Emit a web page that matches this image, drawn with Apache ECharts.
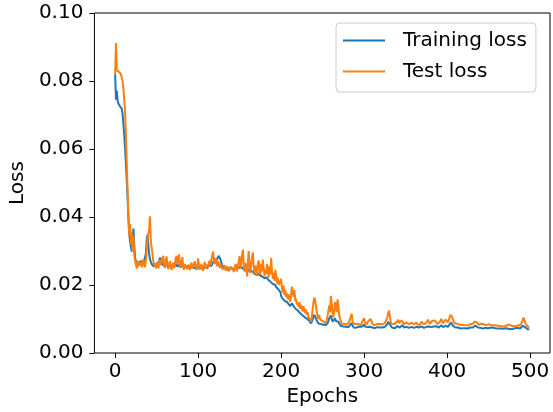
<!DOCTYPE html>
<html>
<head>
<meta charset="utf-8">
<script src="https://cdn.jsdelivr.net/npm/echarts@6/dist/echarts.min.js"></script>
<style>
  html, body { margin: 0; padding: 0; background: #fff; }
  #chart { width: 553px; height: 412px; }
</style>
</head>
<body>
<div id="chart"></div>
<script>
// loss per epoch (epoch = array index)
const trainingLoss = [
  0.0820, 0.0745, 0.0772, 0.0742, 0.0733, 0.0730, 0.0725, 0.0722, 0.0718, 0.0702,
  0.0672, 0.0640, 0.0600, 0.0555, 0.0508, 0.0455, 0.0400, 0.0352, 0.0328, 0.0312,
  0.0298, 0.0338, 0.0366, 0.0318, 0.0282, 0.0270, 0.0262, 0.0268, 0.0260, 0.0258,
  0.0263, 0.0271, 0.0276, 0.0268, 0.0262, 0.0258, 0.0266, 0.0292, 0.0332, 0.0348,
  0.0318, 0.0290, 0.0276, 0.0268, 0.0262, 0.0258, 0.0255, 0.0254, 0.0256, 0.0258,
  0.0262, 0.0258, 0.0266, 0.0272, 0.0280, 0.0283, 0.0270, 0.0262, 0.0258, 0.0255,
  0.0258, 0.0262, 0.0256, 0.0253, 0.0256, 0.0260, 0.0254, 0.0252, 0.0256, 0.0259,
  0.0255, 0.0252, 0.0256, 0.0262, 0.0258, 0.0254, 0.0256, 0.0260, 0.0255, 0.0252,
  0.0255, 0.0258, 0.0254, 0.0251, 0.0254, 0.0257, 0.0253, 0.0250, 0.0254, 0.0256,
  0.0252, 0.0250, 0.0253, 0.0256, 0.0252, 0.0249, 0.0252, 0.0255, 0.0251, 0.0249,
  0.0252, 0.0255, 0.0251, 0.0248, 0.0251, 0.0254, 0.0250, 0.0248, 0.0252, 0.0255,
  0.0251, 0.0249, 0.0253, 0.0258, 0.0262, 0.0260, 0.0256, 0.0262, 0.0268, 0.0272,
  0.0270, 0.0266, 0.0272, 0.0278, 0.0283, 0.0286, 0.0282, 0.0274, 0.0265, 0.0258,
  0.0254, 0.0252, 0.0255, 0.0252, 0.0249, 0.0251, 0.0254, 0.0250, 0.0248, 0.0250,
  0.0252, 0.0249, 0.0246, 0.0249, 0.0251, 0.0248, 0.0252, 0.0258, 0.0262, 0.0255,
  0.0250, 0.0246, 0.0248, 0.0252, 0.0256, 0.0246, 0.0243, 0.0245, 0.0241, 0.0238,
  0.0242, 0.0246, 0.0239, 0.0236, 0.0238, 0.0241, 0.0244, 0.0236, 0.0233, 0.0235,
  0.0232, 0.0229, 0.0233, 0.0235, 0.0229, 0.0226, 0.0230, 0.0225, 0.0228, 0.0224,
  0.0220, 0.0222, 0.0218, 0.0222, 0.0216, 0.0212, 0.0215, 0.0210, 0.0213, 0.0207,
  0.0203, 0.0204, 0.0198, 0.0200, 0.0194, 0.0190, 0.0192, 0.0186, 0.0182, 0.0180,
  0.0168, 0.0162, 0.0158, 0.0160, 0.0154, 0.0152, 0.0149, 0.0150, 0.0145, 0.0144,
  0.0141, 0.0138, 0.0140, 0.0146, 0.0148, 0.0138, 0.0136, 0.0131, 0.0130, 0.0127,
  0.0125, 0.0121, 0.0122, 0.0117, 0.0118, 0.0114, 0.0110, 0.0112, 0.0107, 0.0104,
  0.0103, 0.0099, 0.0100, 0.0095, 0.0094, 0.0090, 0.0087, 0.0090, 0.0098, 0.0106,
  0.0112, 0.0110, 0.0102, 0.0095, 0.0090, 0.0087, 0.0090, 0.0087, 0.0085, 0.0087,
  0.0085, 0.0083, 0.0086, 0.0084, 0.0082, 0.0084, 0.0088, 0.0094, 0.0102, 0.0098,
  0.0110, 0.0100, 0.0092, 0.0088, 0.0096, 0.0102, 0.0094, 0.0090, 0.0098, 0.0092,
  0.0086, 0.0083, 0.0080, 0.0079, 0.0078, 0.0078, 0.0077, 0.0076, 0.0077, 0.0075,
  0.0075, 0.0076, 0.0078, 0.0082, 0.0086, 0.0088, 0.0080, 0.0076, 0.0074, 0.0075,
  0.0076, 0.0075, 0.0074, 0.0076, 0.0078, 0.0075, 0.0074, 0.0077, 0.0080, 0.0082,
  0.0084, 0.0078, 0.0075, 0.0074, 0.0076, 0.0079, 0.0081, 0.0077, 0.0080, 0.0077,
  0.0075, 0.0074, 0.0076, 0.0073, 0.0075, 0.0074, 0.0076, 0.0074, 0.0073, 0.0075,
  0.0074, 0.0076, 0.0075, 0.0073, 0.0075, 0.0077, 0.0074, 0.0078, 0.0085, 0.0092,
  0.0096, 0.0088, 0.0080, 0.0076, 0.0074, 0.0076, 0.0075, 0.0073, 0.0075, 0.0077,
  0.0079, 0.0081, 0.0077, 0.0075, 0.0078, 0.0080, 0.0082, 0.0078, 0.0075, 0.0073,
  0.0075, 0.0077, 0.0079, 0.0076, 0.0074, 0.0073, 0.0075, 0.0077, 0.0079, 0.0076,
  0.0074, 0.0073, 0.0075, 0.0077, 0.0074, 0.0073, 0.0075, 0.0073, 0.0075, 0.0078,
  0.0080, 0.0076, 0.0074, 0.0073, 0.0075, 0.0077, 0.0079, 0.0081, 0.0078, 0.0075,
  0.0074, 0.0076, 0.0079, 0.0081, 0.0078, 0.0080, 0.0082, 0.0079, 0.0075, 0.0074,
  0.0075, 0.0077, 0.0079, 0.0082, 0.0080, 0.0076, 0.0075, 0.0077, 0.0080, 0.0083,
  0.0080, 0.0077, 0.0079, 0.0084, 0.0088, 0.0090, 0.0085, 0.0080, 0.0077, 0.0076,
  0.0075, 0.0074, 0.0076, 0.0075, 0.0073, 0.0074, 0.0072, 0.0074, 0.0075, 0.0073,
  0.0072, 0.0074, 0.0073, 0.0071, 0.0073, 0.0072, 0.0074, 0.0073, 0.0075, 0.0073,
  0.0072, 0.0075, 0.0076, 0.0078, 0.0081, 0.0080, 0.0077, 0.0075, 0.0073, 0.0072,
  0.0074, 0.0075, 0.0073, 0.0072, 0.0074, 0.0076, 0.0074, 0.0072, 0.0071, 0.0073,
  0.0074, 0.0076, 0.0074, 0.0072, 0.0073, 0.0075, 0.0073, 0.0071, 0.0073, 0.0072,
  0.0070, 0.0072, 0.0071, 0.0073, 0.0072, 0.0070, 0.0072, 0.0071, 0.0070, 0.0072,
  0.0073, 0.0071, 0.0070, 0.0072, 0.0074, 0.0072, 0.0070, 0.0072, 0.0073, 0.0071,
  0.0070, 0.0072, 0.0073, 0.0071, 0.0072, 0.0074, 0.0072, 0.0070, 0.0072, 0.0073,
  0.0076, 0.0080, 0.0084, 0.0080, 0.0076, 0.0073, 0.0071, 0.0070, 0.0072, 0.0070
];

const testLoss = [
  0.0820, 0.0912, 0.0832, 0.0828, 0.0835, 0.0826, 0.0822, 0.0820, 0.0815, 0.0800,
  0.0776, 0.0745, 0.0705, 0.0640, 0.0560, 0.0480, 0.0395, 0.0345, 0.0380, 0.0320,
  0.0355, 0.0300, 0.0345, 0.0290, 0.0270, 0.0262, 0.0248, 0.0272, 0.0255, 0.0250,
  0.0258, 0.0268, 0.0252, 0.0262, 0.0275, 0.0260, 0.0252, 0.0270, 0.0300, 0.0335,
  0.0338, 0.0365, 0.0402, 0.0330, 0.0310, 0.0290, 0.0270, 0.0258, 0.0265, 0.0250,
  0.0256, 0.0268, 0.0248, 0.0262, 0.0275, 0.0258, 0.0265, 0.0280, 0.0286, 0.0262,
  0.0250, 0.0272, 0.0284, 0.0258, 0.0246, 0.0262, 0.0270, 0.0252, 0.0245, 0.0258,
  0.0266, 0.0250, 0.0262, 0.0278, 0.0286, 0.0260, 0.0276, 0.0290, 0.0262, 0.0250,
  0.0270, 0.0282, 0.0255, 0.0245, 0.0262, 0.0250, 0.0258, 0.0246, 0.0260, 0.0252,
  0.0244, 0.0258, 0.0266, 0.0250, 0.0246, 0.0262, 0.0270, 0.0252, 0.0244, 0.0258,
  0.0278, 0.0256, 0.0245, 0.0252, 0.0262, 0.0248, 0.0242, 0.0256, 0.0268, 0.0250,
  0.0245, 0.0260, 0.0252, 0.0266, 0.0272, 0.0258, 0.0275, 0.0288, 0.0298, 0.0272,
  0.0262, 0.0280, 0.0266, 0.0255, 0.0270, 0.0260, 0.0250, 0.0262, 0.0256, 0.0246,
  0.0252, 0.0245, 0.0258, 0.0248, 0.0242, 0.0255, 0.0246, 0.0240, 0.0252, 0.0245,
  0.0240, 0.0252, 0.0246, 0.0238, 0.0250, 0.0262, 0.0248, 0.0240, 0.0256, 0.0270,
  0.0285, 0.0250, 0.0262, 0.0290, 0.0304, 0.0258, 0.0240, 0.0265, 0.0248, 0.0225,
  0.0270, 0.0300, 0.0255, 0.0236, 0.0262, 0.0282, 0.0296, 0.0250, 0.0232, 0.0258,
  0.0240, 0.0228, 0.0262, 0.0272, 0.0245, 0.0230, 0.0262, 0.0240, 0.0275, 0.0250,
  0.0225, 0.0246, 0.0232, 0.0262, 0.0245, 0.0222, 0.0255, 0.0232, 0.0280, 0.0240,
  0.0218, 0.0236, 0.0212, 0.0245, 0.0230, 0.0205, 0.0222, 0.0200, 0.0195, 0.0210,
  0.0218, 0.0190, 0.0178, 0.0198, 0.0170, 0.0186, 0.0165, 0.0175, 0.0158, 0.0172,
  0.0160, 0.0150, 0.0172, 0.0195, 0.0200, 0.0165, 0.0185, 0.0152, 0.0160, 0.0142,
  0.0148, 0.0135, 0.0150, 0.0130, 0.0142, 0.0134, 0.0122, 0.0138, 0.0125, 0.0118,
  0.0128, 0.0112, 0.0120, 0.0105, 0.0110, 0.0098, 0.0092, 0.0105, 0.0130, 0.0150,
  0.0163, 0.0155, 0.0135, 0.0120, 0.0108, 0.0100, 0.0112, 0.0098, 0.0094, 0.0102,
  0.0095, 0.0090, 0.0098, 0.0088, 0.0086, 0.0095, 0.0110, 0.0125, 0.0140, 0.0120,
  0.0168, 0.0142, 0.0118, 0.0105, 0.0128, 0.0150, 0.0135, 0.0120, 0.0158, 0.0140,
  0.0110, 0.0102, 0.0092, 0.0086, 0.0084, 0.0088, 0.0085, 0.0083, 0.0086, 0.0084,
  0.0082, 0.0085, 0.0090, 0.0100, 0.0108, 0.0115, 0.0095, 0.0086, 0.0083, 0.0082,
  0.0085, 0.0084, 0.0082, 0.0086, 0.0090, 0.0084, 0.0082, 0.0088, 0.0094, 0.0098,
  0.0102, 0.0090, 0.0086, 0.0084, 0.0088, 0.0094, 0.0098, 0.0090, 0.0100, 0.0092,
  0.0086, 0.0084, 0.0088, 0.0082, 0.0085, 0.0083, 0.0086, 0.0084, 0.0082, 0.0085,
  0.0083, 0.0086, 0.0084, 0.0082, 0.0085, 0.0088, 0.0084, 0.0090, 0.0105, 0.0118,
  0.0125, 0.0108, 0.0092, 0.0086, 0.0084, 0.0088, 0.0085, 0.0083, 0.0086, 0.0090,
  0.0094, 0.0098, 0.0088, 0.0085, 0.0092, 0.0096, 0.0100, 0.0092, 0.0085, 0.0083,
  0.0086, 0.0090, 0.0094, 0.0088, 0.0084, 0.0082, 0.0085, 0.0090, 0.0095, 0.0088,
  0.0084, 0.0082, 0.0086, 0.0090, 0.0084, 0.0082, 0.0085, 0.0083, 0.0086, 0.0092,
  0.0096, 0.0088, 0.0084, 0.0082, 0.0086, 0.0090, 0.0094, 0.0098, 0.0092, 0.0086,
  0.0084, 0.0088, 0.0094, 0.0098, 0.0092, 0.0096, 0.0100, 0.0094, 0.0086, 0.0084,
  0.0086, 0.0090, 0.0094, 0.0100, 0.0096, 0.0088, 0.0085, 0.0090, 0.0098, 0.0102,
  0.0096, 0.0090, 0.0095, 0.0105, 0.0112, 0.0115, 0.0106, 0.0098, 0.0092, 0.0088,
  0.0086, 0.0084, 0.0088, 0.0086, 0.0083, 0.0085, 0.0082, 0.0084, 0.0086, 0.0083,
  0.0081, 0.0084, 0.0082, 0.0080, 0.0083, 0.0081, 0.0084, 0.0082, 0.0085, 0.0083,
  0.0082, 0.0086, 0.0088, 0.0092, 0.0096, 0.0094, 0.0090, 0.0086, 0.0083, 0.0081,
  0.0084, 0.0086, 0.0083, 0.0081, 0.0085, 0.0088, 0.0084, 0.0082, 0.0080, 0.0083,
  0.0085, 0.0088, 0.0084, 0.0081, 0.0083, 0.0086, 0.0082, 0.0080, 0.0083, 0.0081,
  0.0079, 0.0082, 0.0080, 0.0083, 0.0081, 0.0079, 0.0082, 0.0080, 0.0078, 0.0081,
  0.0083, 0.0080, 0.0078, 0.0081, 0.0084, 0.0082, 0.0079, 0.0081, 0.0083, 0.0080,
  0.0078, 0.0081, 0.0083, 0.0080, 0.0082, 0.0085, 0.0081, 0.0079, 0.0082, 0.0084,
  0.0088, 0.0096, 0.0104, 0.0098, 0.0090, 0.0084, 0.0080, 0.0078, 0.0082, 0.0076
];

const xTicks = [0, 100, 200, 300, 400, 500];

const font = 'DejaVu Sans';

const chart = echarts.init(document.getElementById('chart'), null, { renderer: 'canvas' });

chart.setOption({
  animation: false,
  backgroundColor: '#fff',
  grid: {
    left: 92, right: 3, top: 13, bottom: 56,
    show: true,
    borderColor: '#000',
    borderWidth: 1
  },
  legend: {
    left: 336, top: 23,
    orient: 'vertical',
    icon: 'rect',
    itemWidth: 42,
    itemHeight: 2,
    itemGap: 8,
    padding: [6, 9, 9, 7],
    borderColor: '#ccc',
    borderWidth: 1,
    borderRadius: 4,
    backgroundColor: 'rgba(255,255,255,0.8)',
    textStyle: { fontFamily: font, fontSize: 20, color: '#000', lineHeight: 23, padding: [0, 0, 0, 13] },
    data: ['Training loss', 'Test loss']
  },
  xAxis: {
    type: 'value',
    min: -24.95,
    max: 523.95,
    name: 'Epochs',
    nameLocation: 'middle',
    nameGap: 34,
    nameTextStyle: { fontFamily: font, fontSize: 20, color: '#000' },
    axisLine: { show: false, onZero: false },
    splitLine: { show: false },
    axisTick: { show: true, length: 5, customValues: xTicks, lineStyle: { color: '#000' } },
    axisLabel: { customValues: xTicks, margin: 9, fontFamily: font, fontSize: 20, color: '#000' }
  },
  yAxis: {
    type: 'value',
    min: 0,
    max: 0.1,
    interval: 0.02,
    name: 'Loss',
    nameLocation: 'middle',
    nameGap: 60,
    nameTextStyle: { fontFamily: font, fontSize: 20, color: '#000' },
    axisLine: { show: false, onZero: false },
    splitLine: { show: false },
    axisTick: { show: true, length: 5, lineStyle: { color: '#000' } },
    axisLabel: {
      margin: 11, fontFamily: font, fontSize: 20, color: '#000',
      formatter: v => v.toFixed(2)
    }
  },
  series: [
    {
      name: 'Training loss',
      type: 'line',
      data: trainingLoss.map((v, i) => [i, v]),
      symbol: 'none',
      lineStyle: { color: '#1f77b4', width: 2 },
      itemStyle: { color: '#1f77b4' }
    },
    {
      name: 'Test loss',
      type: 'line',
      data: testLoss.map((v, i) => [i, v]),
      symbol: 'none',
      lineStyle: { color: '#ff7f0e', width: 2 },
      itemStyle: { color: '#ff7f0e' }
    }
  ]
});
</script>
</body>
</html>
